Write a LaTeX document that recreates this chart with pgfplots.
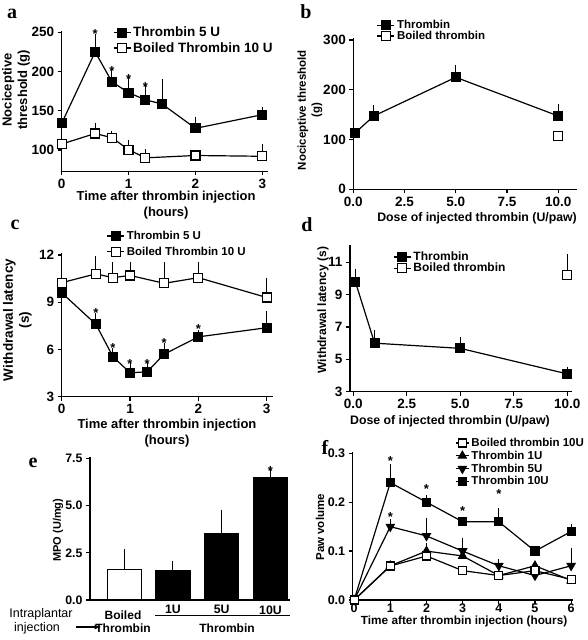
\documentclass[border=0pt]{standalone}
\usepackage{pgfplots}
\pgfplotsset{compat=1.18}
\usepackage{fontspec}
\setmainfont{Liberation Sans}
\newfontfamily\lettfont{Liberation Serif}
\pgfplotsset{
 prism/.style={
  scale only axis, clip=false, enlargelimits=false,
  axis x line*=bottom, axis y line*=left,
  axis line style={line width=1.3pt, black},
  tick align=outside, major tick length=4pt,
  every tick/.style={line width=1.2pt, black},
  /pgf/number format/assume math mode=true,
  tick label style={font=\bfseries\fontsize{13.5}{14}\selectfont},
  label style={font=\bfseries\fontsize{13}{15.5}\selectfont, align=center, anchor=center},
  legend style={draw=none, fill=none, inner sep=0pt, outer sep=0pt, anchor=north west, cells={anchor=west}, row sep=0pt},
  every axis plot/.append style={line width=1.2pt, black},
 },
 eb/.style={error bars/.cd, y dir=plus, y explicit, error bar style={line width=1pt, black}, error mark options={line width=1pt, black, mark size=#1}},
 fsq/.style={mark=square*, mark size=#1, mark options={fill=black, solid}},
 osq/.style={mark=square*, mark size=#1, mark options={fill=white, solid}},
 stars/.style={forget plot, only marks, mark=none, nodes near coords={*}, every node near coord/.append style={anchor=center, font=\bfseries\fontsize{13}{13}\selectfont, black}},
}
\begin{document}
\begin{tikzpicture}
\path[use as bounding box] (0pt,0pt) rectangle (587pt,640pt);
% ---------------- a
\begin{axis}[prism, at={(61.7pt,468.8pt)}, anchor=south west, width=206.7pt, height=140.5pt,
  xmin=0, xmax=3.09, ymin=73, ymax=252, xtick={0,1,2,3}, ytick={100,150,200,250},
  xlabel={Time after thrombin injection\\(hours)}, xlabel style={at={(axis description cs:0.505,-0.24)}},
  ylabel={Nociceptive\\threshold (g)}, ylabel style={at={(axis description cs:-0.221,0.578)}},
  legend style={at={(axis description cs:0.248,1.04)}, font=\bfseries\fontsize{13.5}{14}\selectfont},
  legend entries={Thrombin 5 U, Boiled Thrombin 10 U}]
\addplot[fsq=4.5pt, eb=3.5pt] coordinates {(0,134) +- (0,8) (0.5,225) +- (0,18) (0.75,187) +- (0,13) (1,173) +- (0,17) (1.25,164) +- (0,16) (1.5,158.6) +- (0,27) (2,127.6) +- (0,10.5) (3,145) +- (0,5)};
\addplot[osq=4.5pt, eb=3.5pt] coordinates {(0,107.6) +- (0,9) (0.5,121) +- (0,9) (0.75,115.7) +- (0,3.5) (1,100.4) +- (0,8.5) (1.25,90) +- (0,6.5) (2,93) +- (0,0) (3,92) +- (0,11)};
\addplot[stars] coordinates {(0.5,247.4) (0.75,200.6) (1,191) (1.25,180.6)};
\end{axis}
% ---------------- b
\begin{axis}[prism, at={(353.3pt,450.7pt)}, anchor=south west, width=223.4pt, height=150.8pt,
  xmin=0, xmax=10.9, ymin=0, ymax=303, xtick={0,2.5,5,7.5,10}, ytick={0,100,200,300},
  xticklabel style={/pgf/number format/.cd, fixed, fixed zerofill, precision=1},
  xlabel={Dose of injected thrombin (U/paw)}, xlabel style={at={(axis description cs:0.554,-0.19)}, font=\bfseries\fontsize{12.3}{14}\selectfont},
  ylabel={Nociceptive threshold\\(g)}, ylabel style={at={(axis description cs:-0.194,0.525)}, font=\bfseries\fontsize{11.5}{14}\selectfont},
  legend style={at={(axis description cs:0.105,1.134)}, font=\bfseries\fontsize{11.5}{12}\selectfont, row sep=-3pt},
  legend entries={Thrombin, Boiled thrombin}]
\addplot[fsq=4.5pt, eb=3.5pt] coordinates {(0.1,113.8) +- (0,0) (1,147.3) +- (0,15.4) (5,225) +- (0,18) (10,147.3) +- (0,16.7)};
\addplot[osq=4.5pt] coordinates {(10,107.8)};
\end{axis}
% ---------------- c
\begin{axis}[prism, at={(61.7pt,243.3pt)}, anchor=south west, width=211.8pt, height=143.3pt,
  xmin=0, xmax=3.1, ymin=3, ymax=12.1, xtick={0,1,2,3}, ytick={3,6,9,12},
  xlabel={Time after thrombin injection\\(hours)}, xlabel style={at={(axis description cs:0.497,-0.253)}},
  ylabel={Withdrawal latency\\(s)}, ylabel style={at={(axis description cs:-0.209,0.535)}, font=\bfseries\fontsize{13.5}{16}\selectfont},
  legend style={at={(axis description cs:0.212,1.17)}, font=\bfseries\fontsize{11.5}{12}\selectfont, row sep=2pt},
  legend entries={Thrombin 5 U, Boiled Thrombin 10 U}]
\addplot[fsq=4.5pt, eb=3.5pt] coordinates {(0,9.6) +- (0,0) (0.5,7.6) +- (0,0.5) (0.75,5.54) +- (0,0.31) (1,4.52) +- (0,0.48) (1.25,4.58) +- (0,0.37) (1.5,5.7) +- (0,0.47) (2,6.8) +- (0,0.2) (3,7.38) +- (0,0.81)};
\addplot[osq=4.5pt, eb=3.5pt] coordinates {(0,10.24) +- (0,0.76) (0.5,10.8) +- (0,0.9) (0.75,10.56) +- (0,0.74) (1,10.7) +- (0,0.6) (1.5,10.2) +- (0,1.1) (2,10.56) +- (0,0.74) (3,9.3) +- (0,1.0)};
\addplot[stars] coordinates {(0.5,8.33) (0.75,6.11) (1,5.1) (1.25,5.05) (1.5,6.43) (2,7.32)};
\end{axis}
% ---------------- d
\begin{axis}[prism, at={(350pt,248.3pt)}, anchor=south west, width=221.5pt, height=146.7pt,
  xmin=-0.15, xmax=10.2, ymin=3, ymax=12.07, xtick={0,2.5,5,7.5,10}, ytick={3,5,7,9,11},
  xticklabel style={/pgf/number format/.cd, fixed, fixed zerofill, precision=1},
  xlabel={Dose of injected thrombin (U/paw)}, xlabel style={at={(axis description cs:0.451,-0.2)}, font=\bfseries\fontsize{12.3}{14}\selectfont},
  ylabel={Withdrawal latency (s)}, ylabel style={at={(axis description cs:-0.122,0.557)}, font=\bfseries\fontsize{12}{14}\selectfont},
  legend style={at={(axis description cs:0.195,0.966)}, font=\bfseries\fontsize{12}{12}\selectfont, row sep=-3pt},
  legend entries={Thrombin, Boiled thrombin}]
\addplot[fsq=4.5pt, eb=3.5pt] coordinates {(0.1,9.8) +- (0,0.6) (1,6.0) +- (0,0.6) (5,5.68) +- (0,0.5) (10,4.1) +- (0,0.24)};
\addplot[osq=4.5pt, eb=3.5pt] coordinates {(10,10.2) +- (0,1.1)};
\end{axis}
% ---------------- e
\begin{axis}[prism, at={(90pt,40pt)}, anchor=south west, width=200pt, height=143.2pt,
  xmin=0.3, xmax=4.4, ymin=0, ymax=7.58, xtick={2,3,4}, xticklabels={1U,5U,10U},
  x tick style={draw=none}, ytick={0,2.5,5,7.5},
  yticklabel style={/pgf/number format/.cd, fixed, fixed zerofill, precision=1},
  tick label style={font=\bfseries\fontsize{12.3}{13}\selectfont},
  xticklabel style={yshift=2pt},
  ylabel={MPO (U/mg)}, ylabel style={at={(axis description cs:-0.16,0.488)}, font=\bfseries\fontsize{11}{13}\selectfont}]
\addplot[ybar, bar width=34pt, bar shift=0pt, fill=white, draw=black, eb=8.5pt] coordinates {(1,1.63) +- (0,0.61)};
\addplot[ybar, bar width=34pt, bar shift=0pt, fill=black, draw=black, eb=8.5pt] coordinates {(2,1.54) +- (0,0.09) (3,3.5) +- (0,0.83) (4,6.49) +- (0,0.13)};
\addplot[stars] coordinates {(4,6.85)};
\end{axis}
\node[font=\fontsize{12.5}{13}\selectfont] at (41pt,26pt) {Intraplantar};
\node[font=\fontsize{12.5}{13}\selectfont] at (37pt,12pt) {injection};
\draw[line width=1.2pt, -latex] (76pt,13pt) -- (101pt,13pt);
\node[font=\bfseries\fontsize{12}{13}\selectfont] at (123pt,25pt) {Boiled};
\node[font=\bfseries\fontsize{12}{13}\selectfont] at (123pt,12pt) {Thrombin};
\draw[line width=0.8pt] (155pt,25pt) -- (290pt,25pt);
\node[font=\bfseries\fontsize{12}{13}\selectfont] at (227pt,12pt) {Thrombin};
% ---------------- f
\begin{axis}[prism, at={(352.7pt,40pt)}, anchor=south west, width=220.6pt, height=148.2pt,
  xmin=-0.04, xmax=6.06, ymin=0, ymax=0.303, xtick={0,1,2,3,4,5,6}, ytick={0,0.1,0.2,0.3},
  yticklabel style={/pgf/number format/.cd, fixed, fixed zerofill, precision=1},
  tick label style={font=\bfseries\fontsize{12.5}{13}\selectfont},
  xticklabel style={yshift=4pt},
  xlabel={Time after thrombin injection (hours)}, xlabel style={at={(axis description cs:0.505,-0.148)}, font=\bfseries\fontsize{11.8}{14}\selectfont},
  ylabel={Paw volume}, ylabel style={at={(axis description cs:-0.148,0.49)}, font=\bfseries\fontsize{11.5}{14}\selectfont},
  legend image code/.code={\draw[mark repeat=2,mark phase=2,#1] plot coordinates {(0pt,0pt)(6.5pt,0pt)(13pt,0pt)};},
  legend style={at={(axis description cs:0.465,1.106)}, font=\bfseries\fontsize{11.5}{12}\selectfont, row sep=-1pt},
  reverse legend,
  legend entries={Thrombin 10U, Thrombin 5U, Thrombin 1U, Boiled thrombin 10U}]
\addplot[fsq=4pt, eb=3.5pt] coordinates {(0,0) +- (0,0) (1,0.24) +- (0,0.03) (2,0.20) +- (0,0.008) (3,0.16) +- (0,0) (4,0.16) +- (0,0.02) (5,0.10) +- (0,0) (6,0.14) +- (0,0.008)};
\addplot[mark=triangle*, mark size=4.5pt, mark options={fill=black, solid, rotate=180}, eb=3.5pt] coordinates {(0,0) +- (0,0) (1,0.15) +- (0,0.008) (2,0.131) +- (0,0.029) (3,0.10) +- (0,0.02) (4,0.07) +- (0,0.007) (5,0.05) +- (0,0) (6,0.07) +- (0,0.03)};
\addplot[mark=triangle*, mark size=4.5pt, mark options={fill=black, solid}, eb=3.5pt] coordinates {(0,0) +- (0,0) (1,0.07) +- (0,0) (2,0.10) +- (0,0.009) (3,0.09) +- (0,0) (4,0.05) +- (0,0) (5,0.07) +- (0,0) (6,0.04) +- (0,0)};
\addplot[osq=4pt] coordinates {(0,0) (1,0.0695) (2,0.09) (3,0.06) (4,0.05) (5,0.06) (6,0.042)};
\addplot[stars] coordinates {(1,0.2845) (1,0.1695) (2,0.2265) (3,0.182) (4,0.2175)};
\end{axis}
\node[font=\lettfont\bfseries\fontsize{20}{20}\selectfont] at (12pt,626pt) {a};
\node[font=\lettfont\bfseries\fontsize{20}{20}\selectfont] at (306pt,628pt) {b};
\node[font=\lettfont\bfseries\fontsize{20}{20}\selectfont] at (15pt,415pt) {c};
\node[font=\lettfont\bfseries\fontsize{20}{20}\selectfont] at (307pt,415pt) {d};
\node[font=\lettfont\bfseries\fontsize{20}{20}\selectfont] at (33pt,177pt) {e};
\node[font=\lettfont\bfseries\fontsize{20}{20}\selectfont] at (325pt,193pt) {f};
\end{tikzpicture}
\end{document}
